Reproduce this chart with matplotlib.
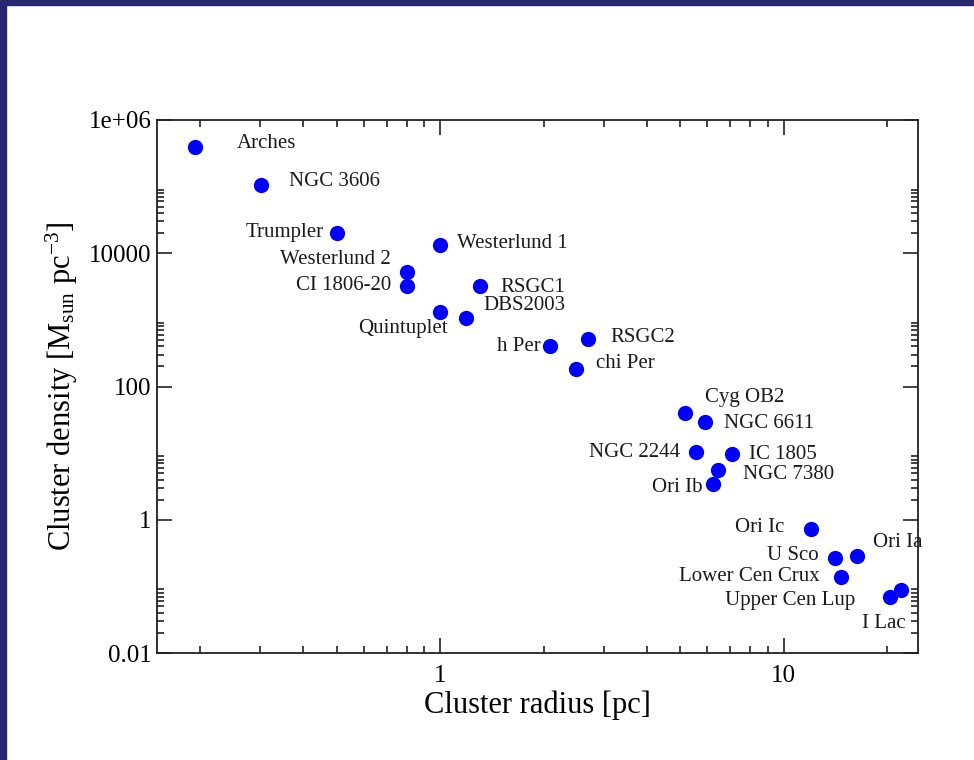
import numpy as np
import matplotlib
matplotlib.use("Agg")
import matplotlib.pyplot as plt
from matplotlib.patches import Rectangle
from matplotlib.ticker import FixedLocator, NullFormatter

plt.rcParams['font.family'] = ['Liberation Serif', 'DejaVu Serif']
plt.rcParams['mathtext.fontset'] = 'custom'
plt.rcParams['mathtext.rm'] = 'Liberation Serif'
plt.rcParams['mathtext.it'] = 'Liberation Serif:italic'

# cluster data (radius in pc, density in Msun pc^-3)
names = ["Arches", "NGC 3606", "Trumpler", "Westerlund 1", "Westerlund 2",
         "CI 1806-20", "RSGC1", "Quintuplet", "DBS2003", "h Per", "RSGC2",
         "chi Per", "Cyg OB2", "NGC 6611", "NGC 2244", "IC 1805", "NGC 7380",
         "Ori Ib", "Ori Ic", "U Sco", "Ori Ia", "Lower Cen Crux",
         "Upper Cen Lup", "I Lac"]
radius = [0.193, 0.302, 0.50, 1.0, 0.80,
          0.80, 1.31, 1.0, 1.19, 2.09, 2.69,
          2.49, 5.15, 5.89, 5.55, 7.06, 6.43,
          6.22, 12.0, 14.1, 16.3, 14.7,
          20.4, 21.9]
density = [4.0e5, 1.05e5, 2.0e4, 1.35e4, 5.2e3,
           3.2e3, 3.2e3, 1.3e3, 1.08e3, 410, 510,
           185, 40, 29, 10.5, 9.8, 5.5,
           3.5, 0.72, 0.27, 0.29, 0.14,
           0.07, 0.088]

# label placement: offset in pixels and alignment
offsets = [(42, 3), (28, 4), (-13, 1), (17, 1), (-16, 13),
           (-16, 1), (20, -1), (8, -16), (17, 12), (-9, -1), (23, 2),
           (20, 5), (20, 16), (19, -1), (-16, -1), (17, -1), (25, -4),
           (-10, -4), (-27, 2), (-16, 2), (16, 13), (-21, 0),
           (-35, -4), (5, -33)]
aligns = ["left", "left", "right", "left", "right",
          "right", "left", "right", "left", "right", "left",
          "left", "left", "left", "right", "left", "left",
          "right", "right", "right", "left", "right",
          "right", "right"]

fig = plt.figure(figsize=(9.74, 7.6), dpi=100)
ax = fig.add_axes([157 / 974, 1 - 653 / 760, (918 - 157) / 974, (653 - 120) / 760])

ax.plot(radius, density, 'o', color='#0000ff', markersize=11, markeredgewidth=0)

for name, x, y, off, ha in zip(names, radius, density, offsets, aligns):
    ax.annotate(name, (x, y), xytext=off, textcoords='offset pixels',
                ha=ha, va='center', fontsize=15, color='#1a1a1a')

ax.set_xscale('log')
ax.set_yscale('log')
ax.set_xlim(0.15, 24.6)
ax.set_ylim(0.01, 1e6)

ax.xaxis.set_major_locator(FixedLocator([1, 10]))
ax.set_xticklabels(["1", "10"])
ax.xaxis.set_minor_locator(FixedLocator([k * 10.0 ** e for e in (-1, 0, 1) for k in range(2, 10)]))
ax.xaxis.set_minor_formatter(NullFormatter())

ax.yaxis.set_major_locator(FixedLocator([0.01, 1, 100, 1e4, 1e6]))
ax.set_yticklabels(["0.01", "1", "100", "10000", "1e+06"])
ax.yaxis.set_minor_locator(FixedLocator([k * 10.0 ** e for e in (-2, 0, 2, 4) for k in range(2, 10)]))
ax.yaxis.set_minor_formatter(NullFormatter())

ax.tick_params(which='both', direction='in', top=True, right=True, width=1.2, color='#222222')
ax.tick_params(which='major', length=10.5, labelsize=18)
ax.tick_params(which='minor', length=5)
ax.tick_params(axis='x', which='major', pad=9)
ax.tick_params(axis='y', which='major', pad=4)
for sp in ax.spines.values():
    sp.set_linewidth(1.3)
    sp.set_color('#222222')

ax.set_xlabel("Cluster radius [pc]", fontsize=22, labelpad=2)
ax.set_ylabel(r"Cluster density [M$_{\mathrm{sun}}$ pc$^{-3}$]", fontsize=22, labelpad=6)

# dark frame on top and left edges
fig.patches.append(Rectangle((0, 1 - 5 / 760), 1, 5 / 760, transform=fig.transFigure,
                             color='#27276f', zorder=10))
fig.patches.append(Rectangle((0, 0), 6 / 974, 1, transform=fig.transFigure,
                             color='#27276f', zorder=10))

fig.savefig("out.png", dpi=100)
